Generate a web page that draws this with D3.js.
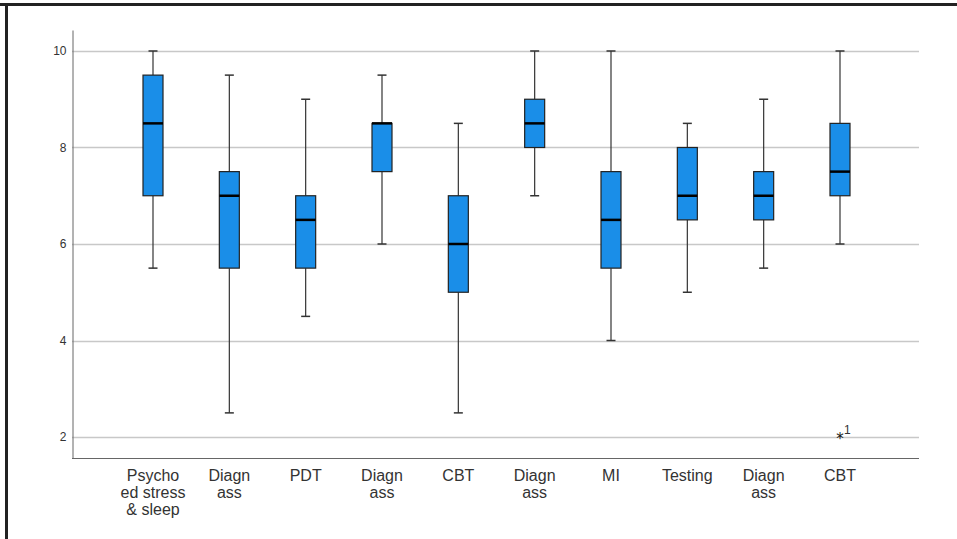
<!DOCTYPE html>
<html><head><meta charset="utf-8">
<script src="https://cdn.jsdelivr.net/npm/d3@7"></script>
<style>
html,body{margin:0;padding:0;background:#fff;}
svg{display:block;}
</style></head>
<body>
<svg id="c" width="957" height="539"></svg>
<script>
const categories = [["Psycho","ed stress","& sleep"],["Diagn","ass"],["PDT"],["Diagn","ass"],["CBT"],["Diagn","ass"],["MI"],["Testing"],["Diagn","ass"],["CBT"]];
const whiskerLow  = [5.5, 2.5, 4.5, 6.0, 2.5, 7.0, 4.0, 5.0, 5.5, 6.0];
const q1          = [7.0, 5.5, 5.5, 7.5, 5.0, 8.0, 5.5, 6.5, 6.5, 7.0];
const medians     = [8.5, 7.0, 6.5, 8.5, 6.0, 8.5, 6.5, 7.0, 7.0, 7.5];
const q3          = [9.5, 7.5, 7.0, 8.5, 7.0, 9.0, 7.5, 8.0, 7.5, 8.5];
const whiskerHigh = [10.0, 9.5, 9.0, 9.5, 8.5, 10.0, 10.0, 8.5, 9.0, 10.0];
const outliers = [{cat: 9, value: 2, label: "1"}];
const yTicks = [2, 4, 6, 8, 10];

const svg = d3.select("#c");
// frame borders
svg.append("rect").attr("x",0).attr("y",3).attr("width",957).attr("height",3).attr("fill","#222");
svg.append("rect").attr("x",5).attr("y",3).attr("width",3).attr("height",536).attr("fill","#222");

const mLeft = 72, mRight = 919, mTop = 30, mBottom = 458;
const y = d3.scaleLinear().domain([1.565, 10.435]).range([mBottom, mTop]);
const idx = d3.range(categories.length);
const x = d3.scalePoint().domain(idx).range([153, 840]);

// gridlines
svg.append("g").selectAll("line").data(yTicks).join("line")
  .attr("x1", mLeft).attr("x2", mRight)
  .attr("y1", d => Math.round(y(d)) + 0.5).attr("y2", d => Math.round(y(d)) + 0.5)
  .attr("stroke", "#c8c8c8").attr("stroke-width", 1.3);

// y axis
const yAxis = d3.axisLeft(y).tickValues(yTicks).tickSize(0).tickPadding(6).tickFormat(d3.format("d"));
const gy = svg.append("g").attr("transform", `translate(${mLeft + 0.5},0)`).call(yAxis);
gy.select(".domain").attr("stroke", "#666");
gy.selectAll("text").attr("font-family", "Liberation Sans, Arial, sans-serif").attr("font-size", 12).attr("fill", "#333");

// x axis baseline
svg.append("line").attr("x1", mLeft).attr("x2", mRight).attr("y1", mBottom + 0.5).attr("y2", mBottom + 0.5).attr("stroke", "#666");

// category labels
const lab = svg.append("g").selectAll("text").data(idx).join("text")
  .attr("x", d => x(d)).attr("y", 481)
  .attr("text-anchor", "middle")
  .attr("font-family", "Liberation Sans, Arial, sans-serif").attr("font-size", 16).attr("fill", "#333");
lab.each(function(d){
  const t = d3.select(this);
  categories[d].forEach((s, i) => t.append("tspan").attr("x", x(d)).attr("dy", i === 0 ? 0 : 17).text(s));
});

const bw = 20, cw = 9;
const g = svg.append("g").selectAll("g").data(idx).join("g");
// whiskers
g.append("line").attr("x1", d => x(d)).attr("x2", d => x(d))
  .attr("y1", d => y(whiskerLow[d])).attr("y2", d => y(q1[d])).attr("stroke", "#333").attr("stroke-width", 1.2);
g.append("line").attr("x1", d => x(d)).attr("x2", d => x(d))
  .attr("y1", d => y(whiskerHigh[d])).attr("y2", d => y(q3[d])).attr("stroke", "#333").attr("stroke-width", 1.2);
// caps
g.append("line").attr("x1", d => x(d) - cw/2).attr("x2", d => x(d) + cw/2)
  .attr("y1", d => y(whiskerLow[d])).attr("y2", d => y(whiskerLow[d])).attr("stroke", "#333").attr("stroke-width", 1.5);
g.append("line").attr("x1", d => x(d) - cw/2).attr("x2", d => x(d) + cw/2)
  .attr("y1", d => y(whiskerHigh[d])).attr("y2", d => y(whiskerHigh[d])).attr("stroke", "#333").attr("stroke-width", 1.5);
// boxes
g.append("rect").attr("x", d => x(d) - bw/2).attr("width", bw)
  .attr("y", d => y(q3[d])).attr("height", d => y(q1[d]) - y(q3[d]))
  .attr("fill", "#1a8ee8").attr("stroke", "#222").attr("stroke-width", 1.2);
// medians
g.append("line").attr("x1", d => x(d) - bw/2).attr("x2", d => x(d) + bw/2)
  .attr("y1", d => y(medians[d])).attr("y2", d => y(medians[d])).attr("stroke", "#000").attr("stroke-width", 2.5);

// outliers
const og = svg.append("g").selectAll("g").data(outliers).join("g");
og.append("text").attr("x", d => x(d.cat)).attr("y", d => y(d.value) + 7)
  .attr("text-anchor", "middle").attr("font-family", "DejaVu Sans, sans-serif").attr("font-size", 15).attr("fill", "#111").text("*");
og.append("text").attr("x", d => x(d.cat) + 4).attr("y", d => y(d.value) - 3)
  .attr("font-family", "Liberation Sans, Arial, sans-serif").attr("font-size", 12).attr("fill", "#333").text(d => d.label);
</script>
</body></html>
